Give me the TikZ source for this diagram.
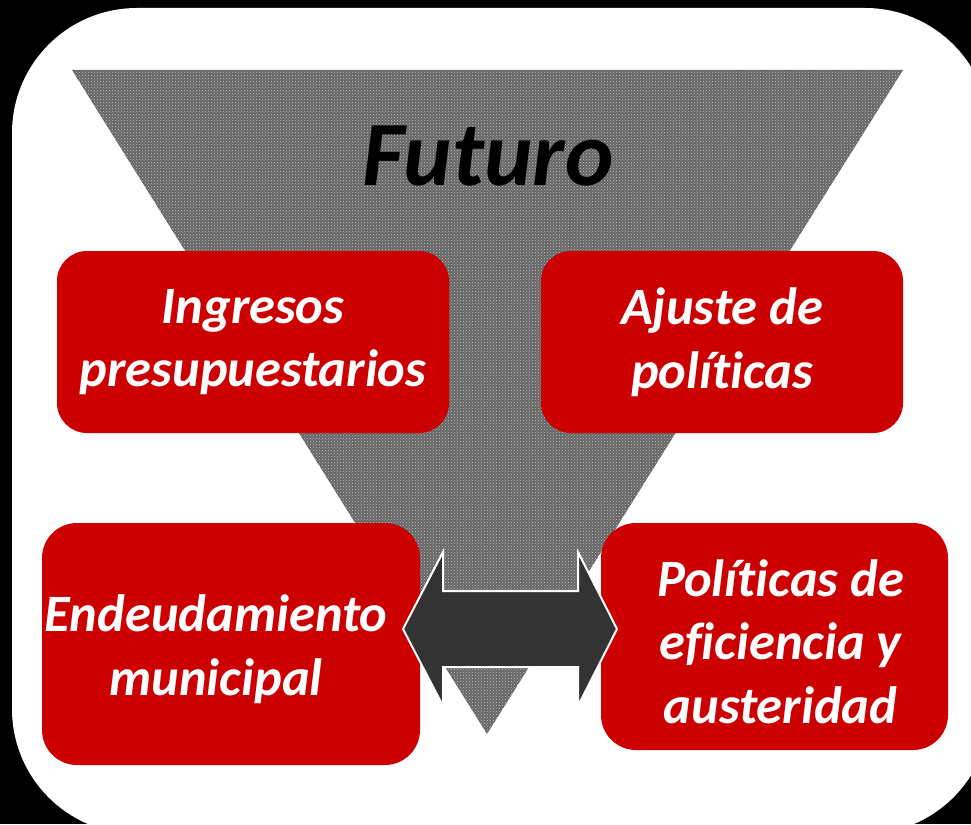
\documentclass[tikz,border=0pt]{standalone}
\usepackage{fontspec}
\setmainfont{Carlito}[Ligatures=NoCommon]
\usetikzlibrary{patterns}
\definecolor{boxred}{RGB}{204,0,0}
\definecolor{arrowgray}{RGB}{51,51,51}
\definecolor{conegray}{RGB}{100,100,100}

\begin{document}
\begin{tikzpicture}[x=1pt, y=-1pt,
    redbox/.style={fill=boxred, draw=none, rounded corners=30pt},
    boxtext/.style={text=white, align=center, font=\fontsize{52.5}{63.5}\selectfont\bfseries\itshape}]
      \fill[black] (0,0) rectangle (971,824);
      \useasboundingbox (0,0) rectangle (971,824);
      \fill[white, rounded corners=125pt] (12,8) rectangle (990,834);
      % cone
      \fill[conegray, postaction={pattern=crosshatch dots, pattern color=gray!45}]
            (72,70) -- (903,70) -- (487,734) -- cycle;
      \node (futuro) at (488,156) [font=\fontsize{92}{110}\selectfont\bfseries\itshape] {Futuro};
      % boxes
      \draw[redbox] (57,251) rectangle (449,433) node (ingresos) [pos=.5, boxtext] {Ingresos\\presupuestarios};
      \draw[redbox] (541,251) rectangle (903,433) node (ajuste) [pos=.5, boxtext] {Ajuste de\\políticas};
      \draw[redbox, rounded corners=35pt] (42,523) rectangle (420,765)
            node (endeudamiento) [pos=.5, boxtext, xshift=-15pt, yshift=-5pt] {Endeudamiento\\municipal};
      \draw[redbox, rounded corners=35pt] (601,523) rectangle (948,750)
            node (eficiencia) [pos=.5, boxtext, xshift=6pt, yshift=-5pt] {Políticas de\\eficiencia y\\austeridad};
      % double arrow
      \draw[fill=arrowgray, draw=white, line width=2pt]
            (403,629) -- (443,552) -- (443,591) -- (578,591) -- (578,552) -- (617,629)
            -- (578,706) -- (578,667) -- (443,667) -- (443,706) -- cycle;
\end{tikzpicture}
\end{document}
